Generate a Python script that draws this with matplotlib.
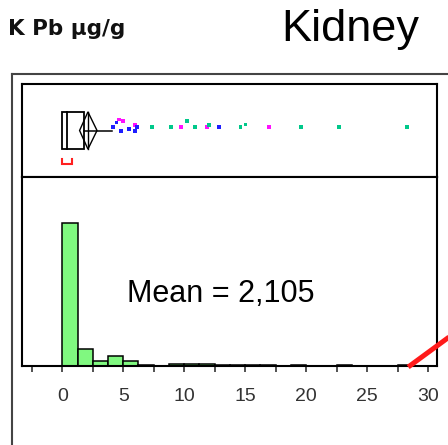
import numpy as np
import matplotlib
matplotlib.use('Agg')
import matplotlib.pyplot as plt
from matplotlib.lines import Line2D
from matplotlib.patches import Polygon, Rectangle

# histogram of kidney Pb, bins of 1.25 starting at 0
bin_width = 1.25
counts = [143, 17, 5, 10, 5, 1, 0, 2, 2, 2, 1, 1, 1, 1, 0, 1, 0, 0, 1, 0, 0, 0, 1]

# outlier box plot summary
q1 = 0.0
median = 0.4
q3 = 1.78
whisker_hi = 4.07
mean = 2.105
mean_ci = (1.42, 2.85)
shortest_half = (-0.05, 0.8)

# outlier points (value, colour, vertical jitter)
out_vals = [4.18, 4.46, 4.65, 5.0, 4.81, 5.49, 5.96, 6.15, 5.96, 7.33, 8.91, 9.73,
            10.25, 10.9, 11.89, 12.05, 12.87, 14.62, 15.03, 16.97, 19.59, 22.7, 28.28]
out_cols = ['b', 'b', 'm', 'm', 'b', 'b', 'm', 'b', 'b', 'g', 'g', 'm',
            'g', 'g', 'm', 'g', 'b', 'g', 'g', 'm', 'g', 'g', 'g']
out_jit = [0.08, 0.17, 0.24, 0.20, -0.01, 0.03, 0.12, 0.08, -0.01, 0.08, 0.08, 0.08,
           0.20, 0.08, 0.08, 0.12, 0.08, 0.08, 0.13, 0.08, 0.08, 0.08, 0.08]
palette = {'b': '#1e1eff', 'm': '#ff10ff', 'g': '#00c88a'}

xticks = np.arange(-2.5, 30.1, 2.5)
xlabels = ['' if t % 5 else '%d' % t for t in xticks]

W, H = 448, 445
fig = plt.figure(figsize=(W / 100, H / 100), dpi=100)

def rect(x0, y0, x1, y1):
  # pixel box -> figure fraction
  return [x0 / W, 1 - y1 / H, (x1 - x0) / W, (y1 - y0) / H]

ax_box = fig.add_axes(rect(22, 84, 437, 177))
ax_hist = fig.add_axes(rect(22, 177, 437, 366), sharex=ax_box)

xlim = (-3.3, 30.72)

# --- box plot panel
ax_box.set_ylim(-1, 1)
ax_box.set_xlim(*xlim)
bh = 0.4
lw = 1.3
ax_box.add_patch(Rectangle((q1, -bh), q3 - q1, 2 * bh, fill=False, ec='black', lw=lw))
ax_box.plot([median, median], [-bh, bh], color='black', lw=lw)
ax_box.plot([q3, whisker_hi], [0, 0], color='black', lw=1.1)
dia = [(mean_ci[0], 0), (mean, bh), (mean_ci[1], 0), (mean, -bh)]
ax_box.add_patch(Polygon(dia, closed=True, fill=False, ec='black', lw=1.0))
ax_box.plot([mean, mean], [-bh, bh], color='black', lw=1.0)
sh = shortest_half
ax_box.plot([sh[0], sh[0], sh[1], sh[1]], [-0.62, -0.73, -0.73, -0.62],
            color='#ff2020', lw=1.5, solid_joinstyle='miter')
ax_box.scatter(out_vals, out_jit, s=7, marker='s', linewidths=0,
               c=[palette[c] for c in out_cols], zorder=3)
ax_box.set_xticks([])
ax_box.set_yticks([])
ax_box.tick_params(axis='x', which='both', bottom=False, labelbottom=False)
for sp in ax_box.spines.values():
  sp.set_linewidth(1.5)

# --- histogram panel
edges = np.arange(len(counts)) * bin_width
ax_hist.bar(edges, counts, width=bin_width, align='edge',
            color='#80f880', edgecolor='black', linewidth=1.1)
ax_hist.set_ylim(0, 189)
ax_hist.set_xlim(*xlim)
ax_hist.set_yticks([])
ax_hist.set_xticks(xticks)
ax_hist.set_xticklabels(xlabels, fontfamily='Liberation Sans', fontsize=14, color='#333333')
ax_hist.tick_params(axis='x', length=4.5, width=1.1, pad=11, color='#222222')
for sp in ax_hist.spines.values():
  sp.set_linewidth(1.5)
ax_hist.text(5.3, 64, 'Mean = 2,105', fontfamily='Liberation Sans', fontsize=22,
             ha='left', va='baseline')

# red pointer line running off the corner
ax_hist.add_line(Line2D([28.36, 33.5], [-1, 45], color='#ff1a1a', lw=3.6,
                        solid_capstyle='butt', clip_on=False, zorder=10))

# outer frame (runs off the right and bottom)
fig.add_artist(Line2D([12 / W, 12 / W], [1 - 74 / H, 0], color='#444444', lw=1.5))
fig.add_artist(Line2D([12 / W, 1], [1 - 74 / H, 1 - 74 / H], color='#444444', lw=1.5))

# titles
fig.text(8 / W, 1 - 35 / H, 'K Pb µg/g', fontfamily='DejaVu Sans', fontweight='bold',
         fontsize=15.5, ha='left', va='baseline', color='#111111')
fig.text(281 / W, 1 - 40.7 / H, 'Kidney', fontfamily='Liberation Sans', fontsize=32.5,
         ha='left', va='baseline')

fig.savefig('out.png', dpi=100)
